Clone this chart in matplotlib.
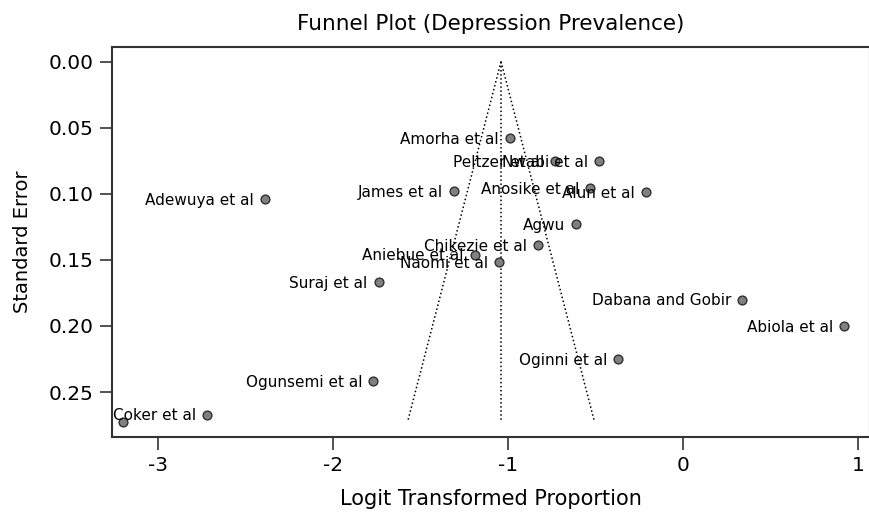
import matplotlib
matplotlib.use("Agg")
import matplotlib.pyplot as plt
import numpy as np

plt.rcParams['font.family'] = ['DejaVu Sans']
plt.rcParams['axes.unicode_minus'] = False

# study estimates
studies = ['Amorha et al', 'Peltzer et al', 'Nwabi et al', 'James et al', 'Anosike et al',
           'Alun et al', 'Agwu', 'Chikezie et al', 'Aniebue et al', 'Naomi et al',
           'Adewuya et al', 'Suraj et al', 'Dabana and Gobir', 'Abiola et al',
           'Oginni et al', 'Ogunsemi et al', 'Coker et al', '']
logit_prop = [-0.99, -0.73, -0.48, -1.31, -0.53,
              -0.21, -0.61, -0.83, -1.19, -1.05,
              -2.39, -1.74, 0.34, 0.92,
              -0.37, -1.77, -2.72, -3.20]
std_err = [0.058, 0.075, 0.075, 0.098, 0.096,
           0.099, 0.123, 0.139, 0.146, 0.152,
           0.104, 0.167, 0.180, 0.200,
           0.225, 0.242, 0.267, 0.273]

pooled = -1.04
se_max = 0.271

fig = plt.figure(figsize=(8.7, 5.14), dpi=100)
ax = fig.add_axes([0.1287, 0.1498, 0.8713, 0.7588])

# funnel
se_line = np.array([0, se_max])
ax.plot(pooled - 1.96 * se_line, se_line, ls=':', color='black', lw=1.1)
ax.plot(pooled + 1.96 * se_line, se_line, ls=':', color='black', lw=1.1)
ax.plot([pooled, pooled], [0, se_max], ls=':', color='black', lw=1.1)

ax.scatter(logit_prop, std_err, s=40, facecolor='#808080', edgecolor='#303030',
           linewidth=1, zorder=3)
for name, x, y in zip(studies, logit_prop, std_err):
    if name:
        ax.annotate(name, (x, y), xytext=(-8, -1), textcoords='offset points',
                    ha='right', va='center', fontsize=11)

ax.set_xlim(-3.264, 1.069)
ax.set_ylim(0.284, -0.011)
ax.set_xticks([-3, -2, -1, 0, 1])
ax.set_yticks([0.00, 0.05, 0.10, 0.15, 0.20, 0.25])
ax.set_yticklabels(['0.00', '0.05', '0.10', '0.15', '0.20', '0.25'])
ax.tick_params(length=9, width=1.2, labelsize=14.5, color='#333333', pad=4)
ax.tick_params(axis='x', pad=5)
for s in ax.spines.values():
    s.set_linewidth(1.5)
    s.set_color('#333333')

ax.set_xlabel('Logit Transformed Proportion', fontsize=15, labelpad=10)
ax.set_ylabel('Standard Error', fontsize=14, labelpad=12)
ax.set_title('Funnel Plot (Depression Prevalence)', fontsize=15.5, pad=12)

fig.savefig('out.png', dpi=100)
